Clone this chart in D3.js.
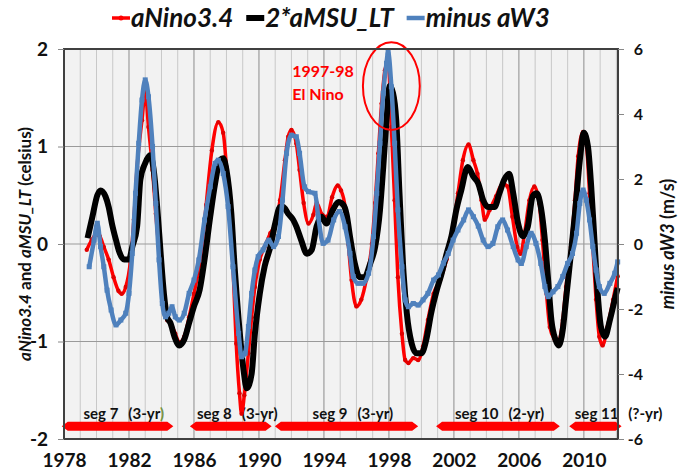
<!DOCTYPE html>
<html>
<head>
<meta charset="utf-8">
<script src="https://cdn.jsdelivr.net/npm/d3@7"></script>
<style>
    body { margin: 0; background: #fff; }
    text { font-family: Lato, "Open Sans", sans-serif; font-weight: bold; }
</style>
</head>
<body>
<svg id="chart" width="688" height="473"></svg>
<script>
// Data: [year, value]
// aNino3.4 (celsius, left axis)
var aNino34 = [
    [1979.4,-0.06],[1979.7,0.04],[1980.0,0.1],[1980.2,0.08],[1980.45,-0.03],[1980.75,-0.16],
    [1981.05,-0.34],[1981.35,-0.48],[1981.55,-0.51],[1981.8,-0.44],[1982.1,-0.16],[1982.3,0.25],
    [1982.5,0.79],[1982.8,1.27],[1983.0,1.56],[1983.2,1.2],[1983.45,0.76],[1983.65,0.31],
    [1983.95,-0.23],[1984.15,-0.64],[1984.35,-0.78],[1984.55,-0.81],[1984.85,-0.92],[1985.1,-1.01],
    [1985.4,-0.95],[1985.7,-0.75],[1986.0,-0.51],[1986.25,-0.3],[1986.5,-0.05],[1986.75,0.4],
    [1987.1,0.96],[1987.5,1.25],[1987.8,1.14],[1988.0,0.79],[1988.2,0.35],[1988.4,-0.23],
    [1988.6,-1.02],[1988.8,-1.53],[1988.93,-1.74],[1989.1,-1.55],[1989.35,-1.12],[1989.55,-0.75],
    [1989.75,-0.44],[1990.05,-0.16],[1990.35,-0.03],[1990.7,0.11],[1991.0,0.21],[1991.3,0.45],
    [1991.6,0.86],[1991.8,1.1],[1992.0,1.17],[1992.3,1.03],[1992.5,0.76],[1992.75,0.42],
    [1993.05,0.21],[1993.35,0.3],[1993.55,0.42],[1993.9,0.3],[1994.2,0.28],[1994.5,0.48],
    [1994.85,0.6],[1995.05,0.55],[1995.3,0.38],[1995.5,0.0],[1995.7,-0.37],[1996.0,-0.64],
    [1996.3,-0.57],[1996.6,-0.37],[1996.95,0.0],[1997.15,0.42],[1997.35,0.93],[1997.55,1.44],
    [1997.75,1.78],[1997.95,1.87],[1998.15,1.2],[1998.35,0.45],[1998.55,-0.34],[1998.8,-0.92],
    [1999.0,-1.19],[1999.2,-1.22],[1999.5,-1.17],[1999.8,-1.19],[2000.1,-1.05],[2000.4,-0.78],
    [2000.75,-0.51],[2001.15,-0.37],[2001.55,-0.16],[2001.95,0.18],[2002.25,0.52],[2002.55,0.86],
    [2002.9,1.02],[2003.2,0.86],[2003.45,0.72],[2003.7,0.45],[2003.9,0.25],[2004.2,0.35],
    [2004.6,0.49],[2005.0,0.62],[2005.3,0.59],[2005.6,0.28],[2005.9,-0.03],[2006.1,-0.1],
    [2006.35,0.11],[2006.65,0.45],[2006.95,0.59],[2007.25,0.42],[2007.45,0.04],[2007.7,-0.51],
    [2007.9,-0.85],[2008.2,-0.98],[2008.4,-1.02],[2008.7,-0.78],[2008.9,-0.44],[2009.2,-0.03],
    [2009.45,0.45],[2009.65,0.9],[2009.95,1.15],[2010.15,1.03],[2010.35,0.52],[2010.55,-0.03],
    [2010.75,-0.57],[2010.95,-0.95],[2011.15,-1.04],[2011.45,-0.85],[2011.8,-0.57],[2012.08,-0.33]
];

// 2*aMSU_LT (celsius, left axis)
var aMSU2 = [
    [1979.45,0.06],[1979.75,0.28],[1980.05,0.5],[1980.25,0.55],[1980.55,0.49],[1980.75,0.38],
    [1980.95,0.21],[1981.2,0.04],[1981.4,-0.08],[1981.7,-0.16],[1982.0,-0.16],[1982.2,-0.03],
    [1982.5,0.18],[1982.7,0.66],[1983.0,0.83],[1983.3,0.91],[1983.55,0.72],[1983.75,0.35],
    [1983.95,-0.1],[1984.15,-0.51],[1984.35,-0.75],[1984.55,-0.81],[1984.8,-0.95],[1985.1,-1.04],
    [1985.4,-0.98],[1985.7,-0.81],[1986.0,-0.64],[1986.35,-0.47],[1986.65,-0.16],[1987.0,0.28],
    [1987.3,0.62],[1987.6,0.86],[1987.8,0.88],[1988.0,0.76],[1988.3,0.31],[1988.5,-0.23],
    [1988.75,-0.78],[1989.05,-1.29],[1989.25,-1.48],[1989.55,-1.33],[1989.75,-0.92],[1990.05,-0.51],
    [1990.35,-0.23],[1990.7,-0.03],[1991.0,0.21],[1991.3,0.38],[1991.5,0.38],[1991.8,0.31],
    [1992.1,0.25],[1992.3,0.18],[1992.6,0.04],[1992.95,-0.1],[1993.25,-0.06],[1993.55,0.18],
    [1993.85,0.28],[1994.15,0.21],[1994.55,0.35],[1994.9,0.43],[1995.2,0.4],[1995.4,0.3],
    [1995.6,0.08],[1995.9,-0.2],[1996.2,-0.34],[1996.5,-0.34],[1996.85,-0.2],[1997.15,-0.03],
    [1997.45,0.35],[1997.65,0.79],[1997.85,1.27],[1998.05,1.62],[1998.25,1.55],[1998.45,1.27],
    [1998.65,0.52],[1998.9,-0.3],[1999.1,-0.71],[1999.4,-1.02],[1999.7,-1.12],[2000.0,-1.12],
    [2000.3,-0.98],[2000.6,-0.71],[2000.95,-0.47],[2001.25,-0.3],[2001.55,-0.1],[2001.85,0.08],
    [2002.15,0.35],[2002.45,0.55],[2002.85,0.79],[2003.2,0.69],[2003.5,0.62],[2003.8,0.45],
    [2004.1,0.38],[2004.5,0.38],[2004.8,0.52],[2005.1,0.66],[2005.4,0.72],[2005.65,0.52],
    [2005.95,0.21],[2006.25,0.08],[2006.55,0.18],[2006.85,0.49],[2007.1,0.52],[2007.35,0.38],
    [2007.6,0.04],[2007.8,-0.37],[2008.0,-0.78],[2008.25,-0.98],[2008.45,-1.04],[2008.7,-0.88],
    [2008.9,-0.57],[2009.2,-0.1],[2009.45,0.31],[2009.75,0.86],[2010.0,1.14],[2010.25,1.0],
    [2010.45,0.59],[2010.65,0.04],[2010.85,-0.51],[2011.05,-0.85],[2011.3,-0.95],[2011.6,-0.78],
    [2011.9,-0.57],[2012.08,-0.45]
];

// minus aW3 (m/s, right axis)
var minusW3 = [
    [1979.55,-0.7],[1979.85,0.12],[1980.05,0.64],[1980.25,-0.08],[1980.45,-0.7],[1980.65,-1.42],
    [1980.9,-2.03],[1981.2,-2.49],[1981.5,-2.34],[1981.8,-2.13],[1982.0,-1.52],[1982.2,-0.29],
    [1982.4,1.56],[1982.6,3.1],[1982.8,4.43],[1983.0,5.05],[1983.2,4.53],[1983.45,3.0],
    [1983.65,1.25],[1983.85,-0.49],[1984.05,-1.83],[1984.25,-2.24],[1984.45,-2.13],[1984.65,-1.93],
    [1984.85,-2.24],[1985.1,-2.34],[1985.4,-2.13],[1985.7,-1.52],[1986.0,-1.11],[1986.3,-0.49],
    [1986.65,0.74],[1987.0,1.76],[1987.3,2.48],[1987.5,2.58],[1987.8,2.17],[1988.1,1.15],
    [1988.4,-0.7],[1988.75,-2.75],[1988.93,-3.47],[1989.15,-3.36],[1989.35,-2.54],[1989.55,-1.52],
    [1989.75,-0.8],[1989.95,-0.39],[1990.25,-0.18],[1990.6,0.12],[1990.9,-0.08],[1991.2,0.23],
    [1991.45,1.35],[1991.7,2.79],[1992.0,3.35],[1992.3,3.3],[1992.5,2.79],[1992.8,1.76],
    [1993.05,1.61],[1993.45,1.56],[1993.65,0.84],[1993.95,0.02],[1994.25,0.12],[1994.6,0.74],
    [1994.95,1.0],[1995.3,0.53],[1995.6,-0.29],[1995.8,-1.0],[1996.1,-1.21],[1996.4,-1.21],
    [1996.75,-0.9],[1997.05,0.23],[1997.25,1.56],[1997.45,3.1],[1997.65,4.64],[1997.85,5.56],
    [1997.95,5.9],[1998.15,4.84],[1998.35,3.1],[1998.55,1.05],[1998.8,-0.7],[1999.0,-1.72],
    [1999.2,-1.93],[1999.5,-1.83],[1999.8,-1.88],[2000.1,-1.72],[2000.4,-1.52],[2000.75,-1.11],
    [2001.05,-0.95],[2001.35,-0.59],[2001.65,-0.29],[2001.95,0.12],[2002.25,0.43],[2002.6,0.74],
    [2002.9,1.05],[2003.2,0.84],[2003.5,0.55],[2003.8,0.12],[2004.1,-0.08],[2004.4,0.02],
    [2004.7,0.53],[2005.0,0.74],[2005.3,0.43],[2005.65,-0.08],[2005.95,-0.49],[2006.15,-0.6],
    [2006.45,-0.08],[2006.75,0.33],[2007.05,0.02],[2007.35,-0.6],[2007.6,-1.31],[2007.8,-1.62],
    [2008.1,-1.47],[2008.4,-1.31],[2008.7,-1.0],[2009.0,-0.6],[2009.3,-0.29],[2009.55,0.33],
    [2009.75,1.25],[2009.95,1.66],[2010.15,1.35],[2010.35,0.74],[2010.55,-0.08],[2010.75,-0.8],
    [2010.95,-1.31],[2011.25,-1.52],[2011.6,-1.21],[2011.9,-0.9],[2012.08,-0.55]
];

// Axis ticks
var yearTicks = [1978, 1982, 1986, 1990, 1994, 1998, 2002, 2006, 2010];
var leftTicks = [-2, -1, 0, 1, 2];
var rightTicks = [-6, -4, -2, 0, 2, 4, 6];

// Segments: [start year, end year]
var segNames = ["seg 7", "seg 8", "seg 9", "seg 10", "seg 11"];
var segPeriods = ["(3-yr", "(3-yr)", "(3-yr)", "(2-yr)", "(?-yr)"];
var segSpans = [[1977.86, 1984.73], [1985.75, 1990.78], [1990.98, 1999.8], [2000.9, 2008.52], [2009.1, 2012.32]];
var segLabelYears = [1979.2, 1986.18, 1993.3, 2002.06, 2009.44];

var style = {
    red: "#ff0000",
    black: "#000000",
    blue: "#4f81bd",
    plotBg: "#f2f2f2",
    frame: "#404040",
    gridMinor: "#c8c8c8",
    gridMajor: "#8c8c8c",
    gridH: "#9a9a9a"
};

var svg = d3.select("#chart");

var x = d3.scaleLinear().domain([1978, 2012.1]).range([64, 618]);
var yL = d3.scaleLinear().domain([-2, 2]).range([439, 49]);
var yR = d3.scaleLinear().domain([-6, 6]).range([439, 49]);

// Plot background
svg.append("rect")
    .attr("x", x(1978)).attr("y", yL(2))
    .attr("width", x(2012.1) - x(1978)).attr("height", yL(-2) - yL(2))
    .attr("fill", style.plotBg);

// Vertical gridlines every year, darker every 4 years
svg.append("g").selectAll("line")
    .data(d3.range(1979, 2013))
    .join("line")
    .attr("x1", function(d) { return x(d); }).attr("x2", function(d) { return x(d); })
    .attr("y1", yL(2)).attr("y2", yL(-2))
    .attr("stroke", function(d) { return (d - 1978) % 4 == 0 ? style.gridMajor : style.gridMinor; })
    .attr("stroke-width", 1);

// Horizontal gridlines
svg.append("g").selectAll("line")
    .data([-1, 0, 1])
    .join("line")
    .attr("x1", x(1978)).attr("x2", x(2012.1))
    .attr("y1", function(d) { return yL(d); }).attr("y2", function(d) { return yL(d); })
    .attr("stroke", style.gridH)
    .attr("stroke-width", 1);

// Segment arrows
var segLevel = -1.87;
var segHalf = 4.5, segTip = 6;
svg.append("g").selectAll("path")
    .data(segSpans)
    .join("path")
    .attr("d", function(d) {
        var x1 = x(d[0]), x2 = x(d[1]), yc = yL(segLevel);
        return "M" + x1 + "," + yc +
            "L" + (x1 + segTip) + "," + (yc - segHalf) +
            "L" + (x2 - segTip) + "," + (yc - segHalf) +
            "L" + x2 + "," + yc +
            "L" + (x2 - segTip) + "," + (yc + segHalf) +
            "L" + (x1 + segTip) + "," + (yc + segHalf) + "Z";
    })
    .attr("fill", style.red);

// Segment labels
var segText = svg.append("g").selectAll("text")
    .data(segNames)
    .join("text")
    .attr("x", function(d, i) { return x(segLabelYears[i]); })
    .attr("y", yL(segLevel) - 7)
    .attr("font-size", 15)
    .attr("fill", "#111");
segText.append("tspan").text(function(d) { return d; });
segText.append("tspan").attr("dx", 10).text(function(d, i) { return segPeriods[i]; });
segText.filter(function(d, i) { return i == 0; })
    .append("tspan").attr("fill", "#77933c").text(")");

// Series lines
var line = function(yScale) {
    return d3.line()
        .x(function(d) { return x(d[0]); })
        .y(function(d) { return yScale(d[1]); })
        .curve(d3.curveMonotoneX);
};

svg.append("path")
    .datum(aNino34)
    .attr("d", line(yL))
    .attr("fill", "none")
    .attr("stroke", style.red)
    .attr("stroke-width", 3.5)
    .attr("stroke-linejoin", "round");
svg.append("g").selectAll("circle")
    .data(aNino34)
    .join("circle")
    .attr("cx", function(d) { return x(d[0]); })
    .attr("cy", function(d) { return yL(d[1]); })
    .attr("r", 2.2)
    .attr("fill", "#e00000");

svg.append("path")
    .datum(aMSU2)
    .attr("d", line(yL))
    .attr("fill", "none")
    .attr("stroke", style.black)
    .attr("stroke-width", 6)
    .attr("stroke-linejoin", "round");

svg.append("path")
    .datum(minusW3)
    .attr("d", line(yR))
    .attr("fill", "none")
    .attr("stroke", style.blue)
    .attr("stroke-width", 4.5)
    .attr("stroke-linejoin", "round");
svg.append("g").selectAll("rect")
    .data(minusW3)
    .join("rect")
    .attr("x", function(d) { return x(d[0]) - 2.5; })
    .attr("y", function(d) { return yR(d[1]) - 2.5; })
    .attr("width", 5).attr("height", 5)
    .attr("fill", style.blue);

// 1997-98 El Nino annotation
svg.append("ellipse")
    .attr("cx", x(1998.15)).attr("cy", yL(1.62))
    .attr("rx", x(1998.15 + 1.75) - x(1998.15))
    .attr("ry", yL(1.62) - yL(2.07))
    .attr("fill", "none")
    .attr("stroke", style.red)
    .attr("stroke-width", 2);
svg.append("text")
    .attr("x", x(1992.05)).attr("y", yL(1.71))
    .attr("font-size", 16).attr("fill", style.red)
    .text("1997-98");
svg.append("text")
    .attr("x", x(1992.05)).attr("y", yL(1.48))
    .attr("font-size", 16).attr("fill", style.red)
    .text("El Nino");

// Plot frame
svg.append("rect")
    .attr("x", x(1978)).attr("y", yL(2))
    .attr("width", x(2012.1) - x(1978)).attr("height", yL(-2) - yL(2))
    .attr("fill", "none")
    .attr("stroke", style.frame)
    .attr("stroke-width", 2);

// Axes
var leftAxis = svg.append("g")
    .attr("transform", "translate(" + x(1978) + ",0)")
    .call(d3.axisLeft(yL).tickValues(leftTicks).tickSize(6).tickPadding(10)
        .tickFormat(function(d) { return String(d); }));
leftAxis.select(".domain").remove();
leftAxis.selectAll("line").attr("stroke", "#888");
leftAxis.selectAll("text").attr("font-size", 19).attr("fill", "#111")
    .style("font-family", "Lato, sans-serif").style("font-weight", "bold");

var rightAxis = svg.append("g")
    .attr("transform", "translate(" + x(2012.1) + ",0)")
    .call(d3.axisRight(yR).tickValues(rightTicks).tickSize(6)
        .tickFormat(function(d) { return String(d); }));
rightAxis.select(".domain").remove();
rightAxis.selectAll("line").attr("stroke", "#888");
rightAxis.selectAll("text").attr("font-size", 16).attr("fill", "#111")
    .attr("text-anchor", "end").attr("x", 25)
    .style("font-family", "Lato, sans-serif").style("font-weight", "bold");

var bottomAxis = svg.append("g")
    .attr("transform", "translate(0," + yL(-2) + ")")
    .call(d3.axisBottom(x).tickValues(yearTicks).tickSize(0).tickPadding(15)
        .tickFormat(function(d) { return String(d); }));
bottomAxis.select(".domain").remove();
bottomAxis.selectAll("text").attr("font-size", 19).attr("fill", "#111")
    .style("font-family", "Lato, sans-serif").style("font-weight", "bold");

// Axis titles
var leftTitle = svg.append("text")
    .attr("transform", "translate(31," + yL(0) + ") rotate(-90)")
    .attr("text-anchor", "middle")
    .attr("font-size", 17)
    .attr("fill", "#111");
leftTitle.append("tspan").style("font-style", "italic").text("aNino3.4");
leftTitle.append("tspan").text(" and ");
leftTitle.append("tspan").style("font-style", "italic").text("aMSU_LT");
leftTitle.append("tspan").text(" (celsius)");

var rightTitle = svg.append("text")
    .attr("transform", "translate(674," + yL(0) + ") rotate(-90)")
    .attr("text-anchor", "middle")
    .attr("font-size", 18)
    .attr("fill", "#111");
rightTitle.append("tspan").style("font-style", "italic").text("minus aW3");
rightTitle.append("tspan").text(" (m/s)");

// Legend
var legendItems = [
    { name: "aNino3.4", color: style.red, width: 3.5, marker: "dot" },
    { name: "2*aMSU_LT", color: style.black, width: 6, marker: null },
    { name: "minus aW3", color: style.blue, width: 4.5, marker: "square" }
];
var legend = svg.append("g");
var lx = 112, ly = 18;
legendItems.forEach(function(item) {
    legend.append("line")
        .attr("x1", lx).attr("x2", lx + 18)
        .attr("y1", ly).attr("y2", ly)
        .attr("stroke", item.color)
        .attr("stroke-width", item.width);
    if (item.marker == "dot") {
        legend.append("circle").attr("cx", lx + 9).attr("cy", ly).attr("r", 2.5).attr("fill", item.color);
    }
    var t = legend.append("text")
        .attr("x", lx + 19).attr("y", ly + 9)
        .attr("font-size", 26)
        .style("font-style", "italic")
        .attr("fill", "#111")
        .text(item.name);
    lx += 19 + t.node().getComputedTextLength() + 13;
});
</script>
</body>
</html>
